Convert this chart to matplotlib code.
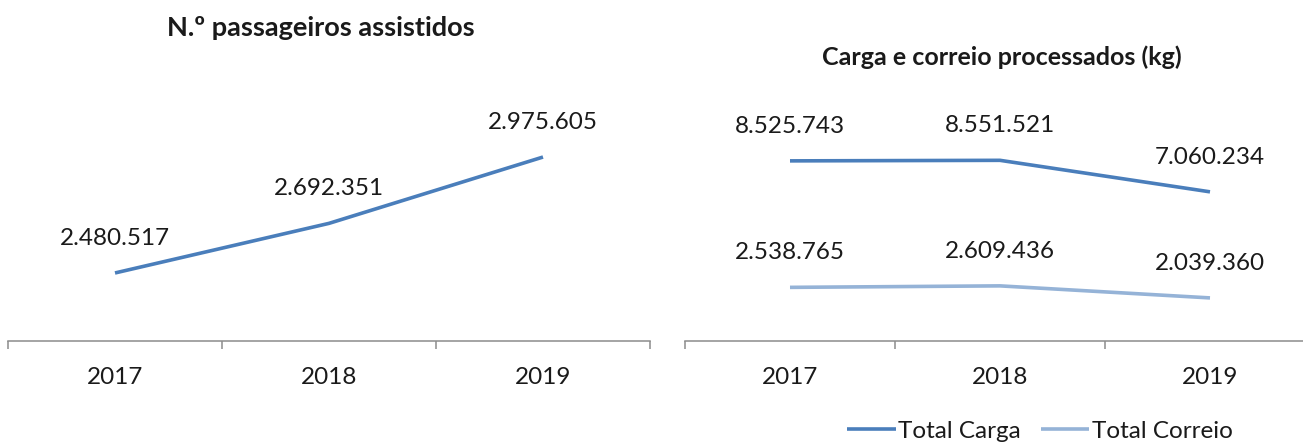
import matplotlib
matplotlib.use("Agg")
import matplotlib.pyplot as plt
from matplotlib.ticker import FixedLocator

plt.rcParams['font.family'] = ['Lato', 'DejaVu Sans']

# data
years = ['2017', '2018', '2019']
passageiros = [2480517, 2692351, 2975605]
carga = [8525743, 8551521, 7060234]
correio = [2538765, 2609436, 2039360]

dark_blue = '#4A7EBB'
light_blue = '#95B3D7'
txt = '#1a1a1a'
axis_grey = '#8c8c8c'
fs = 17.5


def fmt(v):
    # thousands separator as in Portuguese
    return f'{v:,}'.replace(',', '.')


def style_axis(ax):
    for s in ['left', 'right', 'top']:
        ax.spines[s].set_visible(False)
    ax.spines['bottom'].set_color(axis_grey)
    ax.spines['bottom'].set_linewidth(1.1)
    ax.set_xlim(-0.5, 2.5)
    ax.set_xticks(range(len(years)))
    ax.set_xticklabels(years, fontsize=fs, color=txt)
    ax.xaxis.set_minor_locator(FixedLocator([-0.5, 0.5, 1.5, 2.5]))
    ax.tick_params(axis='x', which='major', length=0, pad=19)
    ax.tick_params(axis='x', which='minor', length=6, width=1.1, color=axis_grey, direction='out')
    ax.set_yticks([])


def label_points(ax, vals):
    for i, v in enumerate(vals):
        ax.annotate(fmt(v), (i, v), xytext=(0, 25), textcoords='offset points',
                    ha='center', va='center', fontsize=fs, color=txt)


fig = plt.figure(figsize=(13.03, 4.45), dpi=100)

# left panel
ax1 = fig.add_axes([8 / 1303, 1 - 341 / 445, 642 / 1303, 281 / 445])
ax1.plot(range(len(years)), passageiros, color=dark_blue, linewidth=2.6, solid_capstyle='butt')
ax1.set_ylim(2.19e6, 3.39e6)
style_axis(ax1)
label_points(ax1, passageiros)
fig.text(321 / 1303, 1 - 28 / 445, 'N.º passageiros assistidos', ha='center', va='center',
         fontsize=19.5, fontweight='bold', color=txt)

# right panel
ax2 = fig.add_axes([685 / 1303, 1 - 341 / 445, 630 / 1303, 281 / 445])
ax2.plot(range(len(years)), carga, color=dark_blue, linewidth=2.6, label='Total Carga', solid_capstyle='butt')
ax2.plot(range(len(years)), correio, color=light_blue, linewidth=2.6, label='Total Correio', solid_capstyle='butt')
ax2.set_ylim(0, 13.3e6)
style_axis(ax2)
label_points(ax2, carga)
label_points(ax2, correio)
fig.text(1002 / 1303, 1 - 57 / 445, 'Carga e correio processados (kg)', ha='center', va='center',
         fontsize=18, fontweight='bold', color=txt)

fig.legend(loc='center', bbox_to_anchor=(1040 / 1303, 1 - 431 / 445), ncol=2, frameon=False,
           fontsize=fs, handlelength=2.0, handletextpad=0.1, columnspacing=0.8,
           labelcolor=txt, borderpad=0.2)

fig.savefig('out.png', dpi=100)
